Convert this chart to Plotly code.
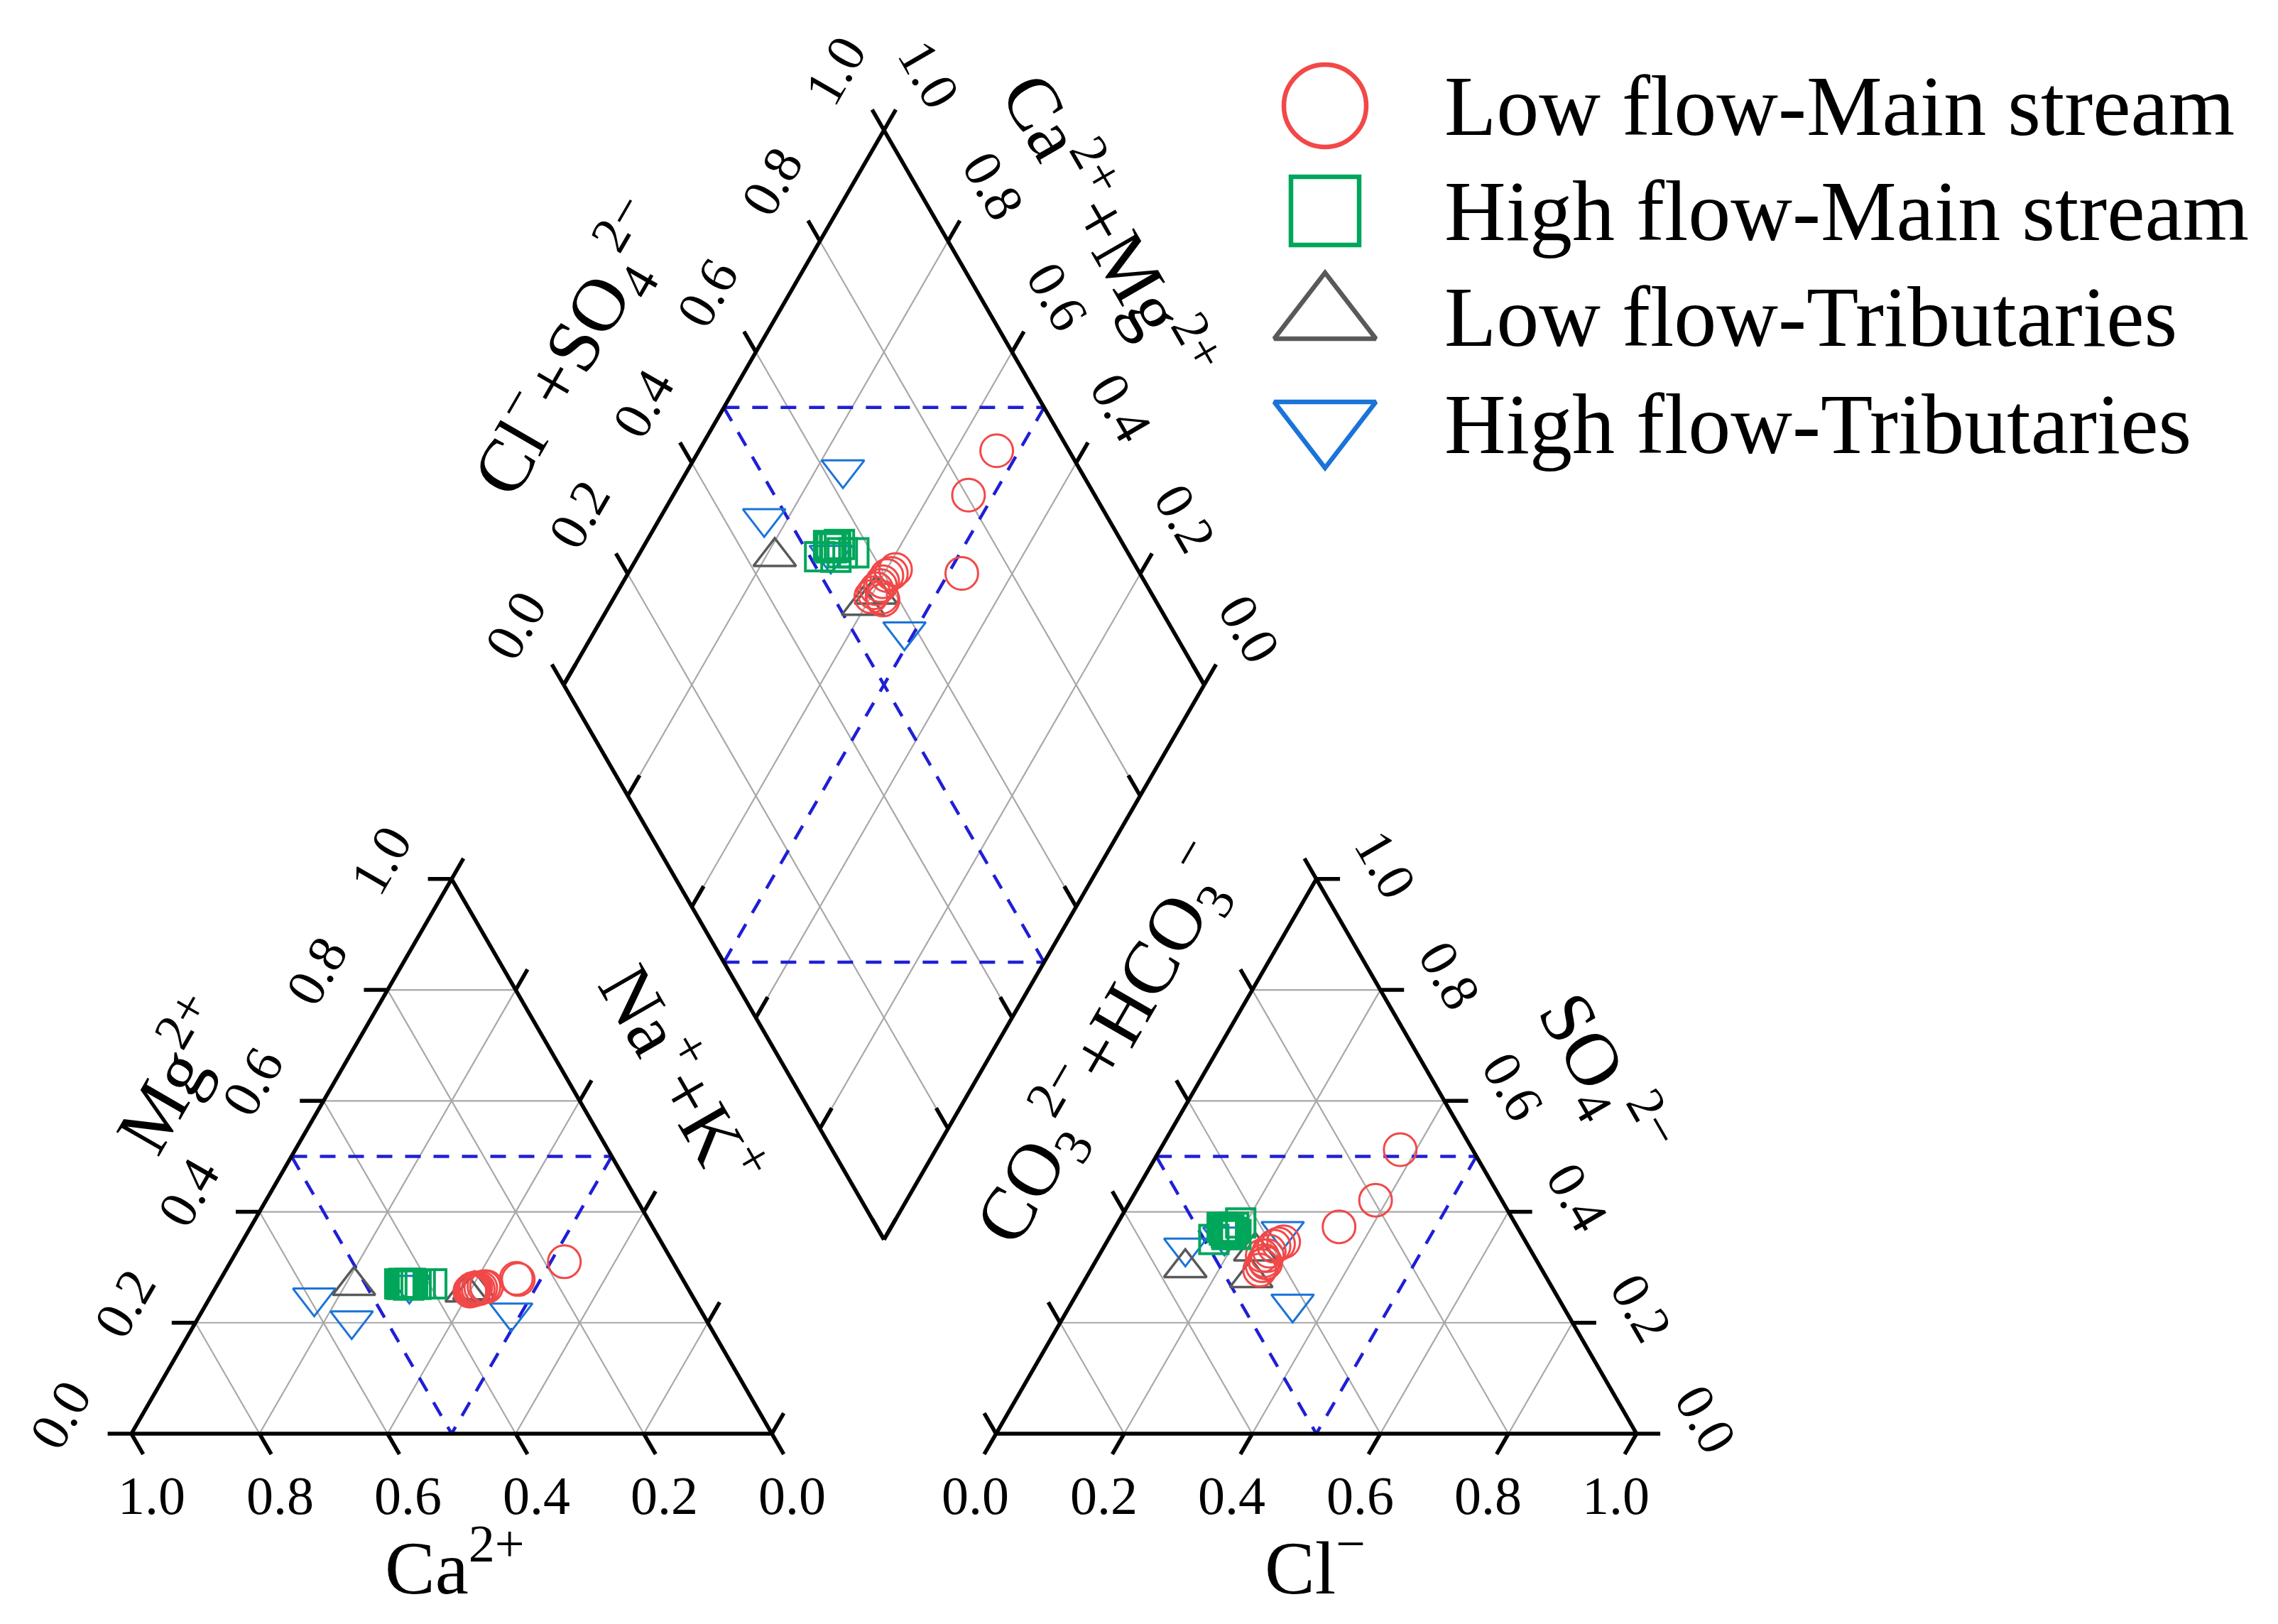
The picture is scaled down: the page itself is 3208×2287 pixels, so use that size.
import numpy as np
import plotly.graph_objects as go

# ---------------- data (meq %) ----------------
series_names = ["Low flow-Main stream", "High flow-Main stream",
                "Low flow-Tributaries", "High flow-Tributaries"]

# Low flow - Main stream
lfm_ca   = [34.3, 34.0, 33.7, 33.6, 33.4, 33.1, 32.8, 32.3, 31.7, 31.3, 25.7, 25.9, 16.9]
lfm_mg   = [25.7, 25.9, 26.1, 25.9, 26.1, 26.3, 26.1, 26.3, 26.5, 26.5, 27.8, 28.0, 31.0]
lfm_nak  = [40.0, 40.1, 40.2, 40.5, 40.5, 40.6, 41.1, 41.4, 41.8, 42.2, 46.5, 46.1, 52.1]
lfm_hco3 = [44.1, 43.3, 42.5, 41.6, 40.9, 39.7, 38.8, 37.8, 42.4, 42.5, 11.3, 19.7, 27.8]
lfm_so4  = [29.5, 30.3, 31.2, 32.1, 32.9, 33.8, 34.2, 34.6, 32.1, 30.8, 51.2, 42.1, 37.3]
lfm_cl   = [26.4, 26.4, 26.3, 26.3, 26.2, 26.5, 27.0, 27.6, 25.5, 26.7, 37.5, 38.2, 34.9]

# High flow - Main stream
hfm_ca   = [44.6, 44.3, 43.9, 43.6, 43.3, 42.9, 42.6, 42.1, 41.4, 39.6]
hfm_mg   = [27.0, 26.9, 27.1, 27.0, 26.8, 27.1, 27.0, 26.9, 27.0, 27.0]
hfm_nak  = [28.4, 28.8, 29.0, 29.4, 29.9, 30.0, 30.4, 31.0, 31.6, 33.4]
hfm_hco3 = [48.5, 46.1, 46.0, 45.9, 45.3, 45.1, 44.3, 46.0, 44.6, 42.8]
hfm_so4  = [35.0, 37.2, 36.7, 36.3, 36.7, 36.3, 37.2, 35.9, 35.9, 38.0]
hfm_cl   = [16.5, 16.7, 17.3, 17.8, 18.0, 18.6, 18.5, 18.1, 19.5, 19.2]

# Low flow - Tributaries
lft_ca   = [51.9, 34.9, 33.5]
lft_mg   = [26.7, 25.5, 25.9]
lft_nak  = [21.4, 39.6, 40.6]
lft_hco3 = [55.5, 46.1, 43.1]
lft_so4  = [29.9, 28.1, 32.9]
lft_cl   = [14.6, 25.8, 24.0]

# High flow - Tributaries
hft_ca   = [59.2, 55.4, 43.2, 29.8]
hft_mg   = [24.5, 20.4, 26.8, 21.8]
hft_nak  = [16.3, 24.2, 30.0, 48.4]
hft_hco3 = [53.7, 37.0, 46.6, 42.0]
hft_so4  = [33.5, 36.5, 35.5, 23.4]
hft_cl   = [12.8, 26.5, 17.9, 34.6]

tick_values = [0.0, 0.2, 0.4, 0.6, 0.8, 1.0]
tick_labels = ["0.0", "0.2", "0.4", "0.6", "0.8", "1.0"]

# ---------------- Piper geometry ----------------
GAP = 0.35
S3 = np.sqrt(3) / 2


def cat_xy(ca, mg, na):
    t = ca + mg + na
    mg, na = mg / t, na / t
    return na + mg / 2, mg * S3


def an_xy(hco3, so4, cl):
    t = hco3 + so4 + cl
    so4, cl = so4 / t, cl / t
    return 1 + GAP + cl + so4 / 2, so4 * S3


BX, BY = 1 + GAP / 2, GAP * S3


def dia_xy(s, c):  # s = Cl+SO4 fraction, c = Ca+Mg fraction
    return BX + 0.5 * (s - c), BY + S3 * (s + c)


# ---------------- figure scaling ----------------
W, H = 3192, 2271
PX = 902.0
x0 = -(185 - 8) / PX
x1 = x0 + W / PX
y1 = (2019 - 8) / PX
y0 = y1 - H / PX


def px2d(X, Y):
    return (X - 185) / PX, (2019 - Y) / PX


FONT = "Liberation Serif, Times New Roman, serif"
fig = go.Figure()


def add_segments(segs, color, width, dash=None):
    xs, ys = [], []
    for (a, b) in segs:
        xs += [a[0], b[0], None]
        ys += [a[1], b[1], None]
    line = dict(color=color, width=width)
    if dash:
        line["dash"] = dash
    fig.add_trace(go.Scatter(x=xs, y=ys, mode="lines", line=line,
                             hoverinfo="skip", showlegend=False))


# grid lines
grid = []
for v in tick_values[1:-1]:
    grid.append((cat_xy(1 - v, v, 0), cat_xy(0, v, 1 - v)))
    grid.append((cat_xy(1 - v, 0, v), cat_xy(0, 1 - v, v)))
    grid.append((cat_xy(v, 0, 1 - v), cat_xy(v, 1 - v, 0)))
    grid.append((an_xy(1 - v, v, 0), an_xy(0, v, 1 - v)))
    grid.append((an_xy(1 - v, 0, v), an_xy(0, 1 - v, v)))
    grid.append((an_xy(v, 0, 1 - v), an_xy(v, 1 - v, 0)))
    grid.append((dia_xy(v, 0), dia_xy(v, 1)))
    grid.append((dia_xy(0, v), dia_xy(1, v)))
add_segments(grid, "#a8a8a8", 2.2)

# dashed classification lines
dash = []
dash += [(cat_xy(.5, .5, 0), cat_xy(0, .5, .5)), (cat_xy(.5, .5, 0), cat_xy(.5, 0, .5)),
         (cat_xy(0, .5, .5), cat_xy(.5, 0, .5))]
dash += [(an_xy(.5, .5, 0), an_xy(0, .5, .5)), (an_xy(.5, .5, 0), an_xy(.5, 0, .5)),
         (an_xy(0, .5, .5), an_xy(.5, 0, .5))]
dash += [(dia_xy(.5, 1), dia_xy(1, .5)), (dia_xy(0, .5), dia_xy(.5, 0)),
         (dia_xy(.5, 1), dia_xy(.5, 0)), (dia_xy(1, .5), dia_xy(0, .5))]
add_segments(dash, "#1f1fd6", 4.5, dash="22px,18px")

# outlines
outl = []
lt = [cat_xy(1, 0, 0), cat_xy(0, 0, 1), cat_xy(0, 1, 0)]
rt = [an_xy(1, 0, 0), an_xy(0, 0, 1), an_xy(0, 1, 0)]
dm = [dia_xy(0, 0), dia_xy(1, 0), dia_xy(1, 1), dia_xy(0, 1)]
for poly in (lt, rt, dm):
    for i in range(len(poly)):
        outl.append((poly[i], poly[(i + 1) % len(poly)]))

# ticks
TL = 0.037
ticks = []
annos = []
TICKFONT = dict(family=FONT, size=76, color="black")


def tick(base, d):
    n = np.hypot(*d)
    ticks.append((base, (base[0] + d[0] / n * TL, base[1] + d[1] / n * TL)))


def label(base, off, text, ang=0):
    annos.append(dict(x=base[0] + off[0], y=base[1] + off[1], text=text, showarrow=False,
                      textangle=ang, font=TICKFONT, xref="x", yref="y",
                      xanchor="center", yanchor="middle"))


for v, t in zip(tick_values, tick_labels):
    b = cat_xy(v, 0, 1 - v)
    tick(b, (0.5, -S3)); label(b, (0.032, -0.097), t)
    b = cat_xy(1 - v, v, 0)
    tick(b, (-1, 0)); label(b, (-0.111, 0.030), t, -60)
    b = cat_xy(0, v, 1 - v)
    tick(b, (0.5, S3))
    b = an_xy(1 - v, 0, v)
    tick(b, (-0.5, -S3)); label(b, (-0.032, -0.097), t)
    b = an_xy(0, v, 1 - v)
    tick(b, (1, 0)); label(b, (0.108, 0.023), t, 60)
    b = an_xy(1 - v, v, 0)
    tick(b, (-0.5, S3))
    b = dia_xy(v, 1)
    tick(b, (-0.5, S3)); label(b, (-0.076, 0.093), t, -60)
    b = dia_xy(1, v)
    tick(b, (0.5, S3)); label(b, (0.071, 0.087), t, 60)
    b = dia_xy(0, v)
    tick(b, (0.5, S3))
    b = dia_xy(v, 0)
    tick(b, (-0.5, S3))

add_segments(outl + ticks, "black", 5.5)

# ---------------- samples ----------------
series = [
    (lfm_ca, lfm_mg, lfm_nak, lfm_hco3, lfm_so4, lfm_cl),
    (hfm_ca, hfm_mg, hfm_nak, hfm_hco3, hfm_so4, hfm_cl),
    (lft_ca, lft_mg, lft_nak, lft_hco3, lft_so4, lft_cl),
    (hft_ca, hft_mg, hft_nak, hft_hco3, hft_so4, hft_cl),
]
styles = [
    dict(symbol="circle-open", size=46, color="#f24848", lw=3),
    dict(symbol="square-open", size=40, color="#00a65a", lw=4),
    dict(symbol="triangle-up-open", size=52, color="#595959", lw=3.5),
    dict(symbol="triangle-down-open", size=52, color="#1a73d8", lw=3),
]
draw_order = [3, 2, 0, 1]
for k in draw_order:
    ca, mg, na, hc, so, cl = [np.array(a, float) for a in series[k]]
    cx, cy = cat_xy(ca, mg, na)
    ax, ay = an_xy(hc, so, cl)
    s = (so + cl) / (hc + so + cl)
    c = (ca + mg) / (ca + mg + na)
    dx, dy = dia_xy(s, c)
    st = styles[k]
    fig.add_trace(go.Scatter(
        x=np.concatenate([cx, ax, dx]), y=np.concatenate([cy, ay, dy]),
        mode="markers", name=series_names[k], showlegend=False,
        marker=dict(symbol=st["symbol"], size=st["size"], color=st["color"],
                    line=dict(width=st["lw"], color=st["color"]))))

# ---------------- custom legend ----------------
leg_rows_px = [149, 297, 446, 597]
leg_sym_x = 1866
leg_txt_x = 2032
leg_sizes = [116, 96, 124, 124]
for k in range(4):
    lx, ly = px2d(leg_sym_x, leg_rows_px[k])
    st = styles[k]
    fig.add_trace(go.Scatter(
        x=[lx], y=[ly], mode="markers", showlegend=False, hoverinfo="skip",
        marker=dict(symbol=st["symbol"], size=leg_sizes[k], color=st["color"],
                    line=dict(width=6.5, color=st["color"]))))
    tx, ty = px2d(leg_txt_x, leg_rows_px[k])
    annos.append(dict(x=tx, y=ty, text=series_names[k], showarrow=False,
                      xanchor="left", yanchor="middle", xref="x", yref="y",
                      font=dict(family=FONT, size=120, color="black")))

# ---------------- axis titles ----------------
TFONT = dict(family=FONT, size=106, color="black")
titles = [
    ("Ca<sup>2+</sup>", 640, 2200, 0),
    ("Cl<sup>−</sup>", 1852, 2200, 0),
    ("Mg<sup>2+</sup>", 241, 1512, -60),
    ("Na<sup>+</sup>+K<sup>+</sup>", 964, 1514, 60),
    ("CO<sub>3</sub><sup>2−</sup>+HCO<sub>3</sub><sup>−</sup>", 1556, 1470, -60),
    ("SO<sub>4</sub><sup>2−</sup>", 2258, 1516, 60),
    ("Cl<sup>−</sup>+SO<sub>4</sub><sup>2−</sup>", 805, 492, -60),
    ("Ca<sup>2+</sup>+Mg<sup>2+</sup>", 1565, 318, 60),
]
for text, X, Y, ang in titles:
    tx, ty = px2d(X, Y)
    annos.append(dict(x=tx, y=ty, text=text, showarrow=False, textangle=ang,
                      xanchor="center", yanchor="middle", xref="x", yref="y", font=TFONT))

fig.update_layout(
    width=W, height=H, margin=dict(l=0, r=0, t=0, b=0),
    paper_bgcolor="white", plot_bgcolor="white", showlegend=False,
    xaxis=dict(range=[x0, x1], visible=False, fixedrange=True),
    yaxis=dict(range=[y0, y1], visible=False, fixedrange=True),
    annotations=annos,
)
fig.write_html("out.html")
